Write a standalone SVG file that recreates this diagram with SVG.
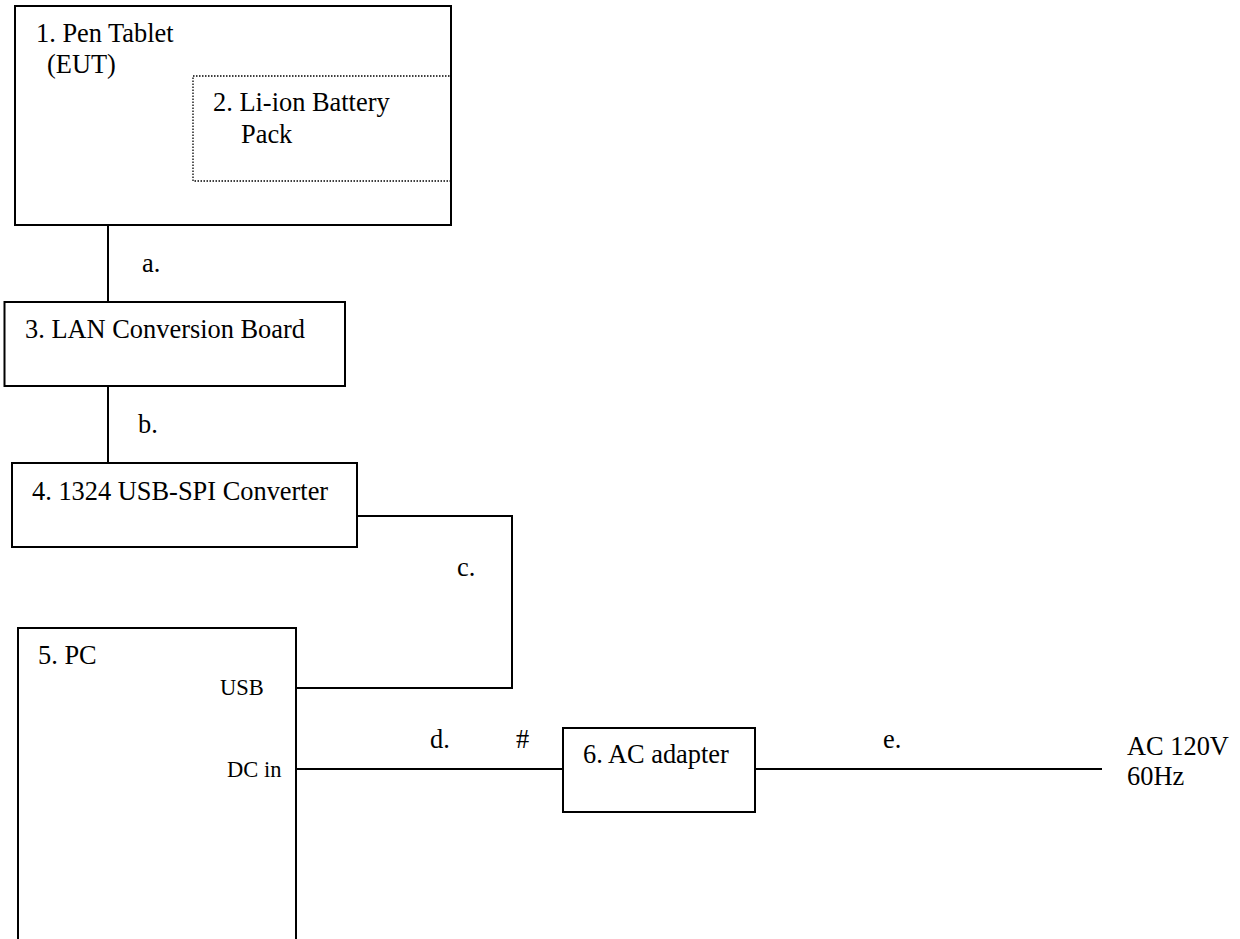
<svg xmlns="http://www.w3.org/2000/svg" width="1240" height="939" viewBox="0 0 1240 939">
<style>
.box{fill:none;stroke:#000;stroke-width:2}
.dot{fill:none;stroke:#000;stroke-width:1.3;stroke-dasharray:1.5 1.5}
.ln{fill:none;stroke:#000;stroke-width:2}
text{font-family:"Liberation Serif","Times New Roman",serif;font-size:26.4px;fill:#000}
.sm{font-size:22.5px}
</style>
<rect width="1240" height="939" fill="#fff"/>
<g id="n1">
<rect class="box" x="15" y="6" width="436" height="219"/>
<text x="36" y="42">1. Pen Tablet</text>
<text x="47" y="73">(EUT)</text>
</g>
<g id="n2">
<rect class="dot" x="193" y="76" width="258" height="105"/>
<text x="213" y="111">2. Li-ion Battery</text>
<text x="241" y="143">Pack</text>
</g>
<g id="n3">
<rect class="box" x="4.5" y="302" width="340.5" height="84"/>
<text x="25" y="338">3. LAN Conversion Board</text>
</g>
<g id="n4">
<rect class="box" x="12" y="463" width="345" height="84"/>
<text x="32" y="500">4. 1324 USB-SPI Converter</text>
</g>
<g id="n5">
<path class="box" d="M18,945 V628 H296 V945"/>
<text x="38" y="664">5. PC</text>
<text class="sm" x="220" y="695">USB</text>
<text class="sm" x="227" y="777">DC in</text>
</g>
<g id="n6">
<rect class="box" x="563" y="728" width="192" height="84"/>
<text x="583" y="763">6. AC adapter</text>
</g>
<g id="connectors">
<path class="ln" d="M108,225 V302"/>
<text x="142" y="272">a.</text>
<path class="ln" d="M108,386 V463"/>
<text x="138" y="433">b.</text>
<path class="ln" d="M357,516 H512 V688 H296"/>
<text x="457" y="576">c.</text>
<path class="ln" d="M296,769 H563"/>
<text x="430" y="748">d.</text>
<text x="516" y="748">#</text>
<path class="ln" d="M755,769 H1102"/>
<text x="883" y="748">e.</text>
<text x="1127" y="755">AC 120V</text>
<text x="1127" y="785">60Hz</text>
</g>
</svg>
